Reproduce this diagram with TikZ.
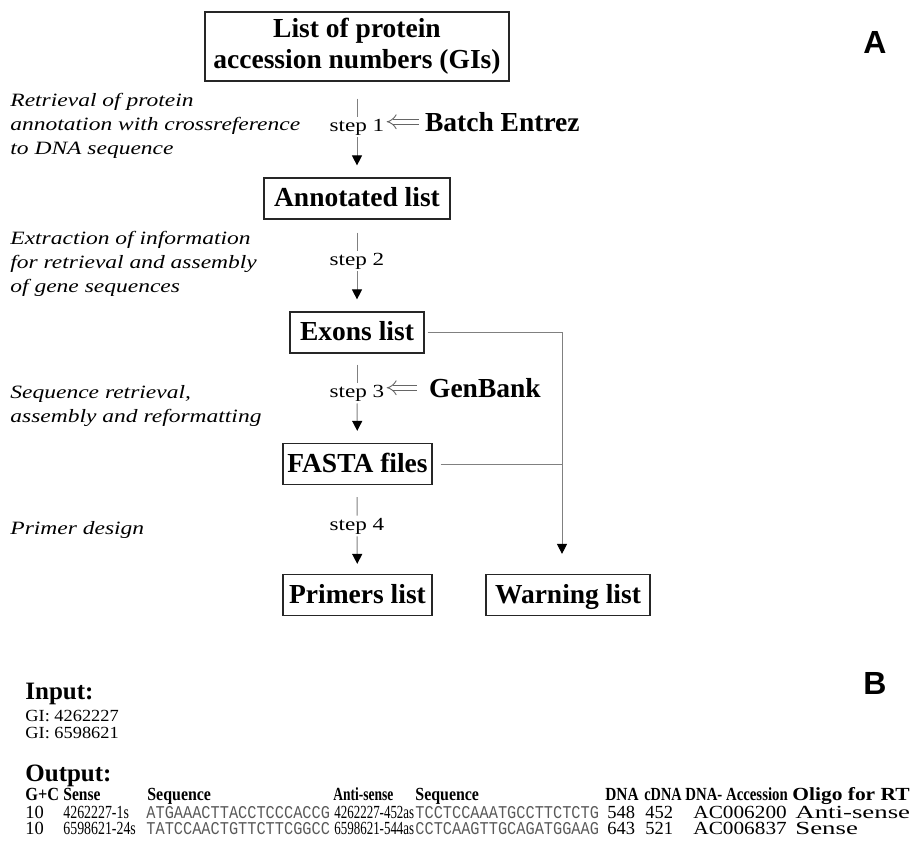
\documentclass[tikz,border=0pt]{standalone}
\usepackage{fontspec}
\usepackage{graphicx}
\setmainfont{Liberation Serif}
\newfontfamily\wideserif[FakeStretch=1.25]{Liberation Serif}
\newfontfamily\seqfont[FakeStretch=0.85]{Liberation Mono}
\newfontfamily\panelfont{Liberation Sans}
\usetikzlibrary{arrows.meta,positioning}
\newcommand{\squeeze}[2]{\scalebox{#1}[1]{#2}}

\tikzset{
  listbox/.style={draw=black!85, line width=0.6pt, inner sep=1pt, minimum height=20.5pt,
    align=center, font=\bfseries\fontsize{13.75}{15.5}\selectfont},
  onerow/.style={text height=9.4pt, text depth=1.2pt},
  steplabel/.style={inner sep=1pt, font=\wideserif\fontsize{9.25}{10}\selectfont},
  note/.style={inner sep=0pt, anchor=west, align=left, font=\wideserif\itshape\fontsize{9.4}{12}\selectfont},
  toolname/.style={inner sep=1pt, font=\bfseries\fontsize{13.75}{15.5}\selectfont},
  flow/.style={draw=black!50, line width=0.5pt},
  link/.style={draw=black!50, line width=0.5pt},
  pointer/.style={-{Triangle[width=5pt,length=5pt,color=black]}, shorten >=6pt},
  feed/.style={draw=black!60, line width=0.45pt, double, double distance=2.2pt, -{Implies[scale=1.8]}},
  panel/.style={inner sep=0pt, font=\panelfont\bfseries\fontsize{16}{16}\selectfont},
  heading/.style={inner sep=0pt, anchor=base west, font=\bfseries\fontsize{12.5}{14}\selectfont},
  headcell/.style={inner sep=0pt, anchor=base west, font=\bfseries\fontsize{9.25}{10}\selectfont},
  cell/.style={inner sep=0pt, anchor=base west, font=\fontsize{9.25}{10}\selectfont},
  gicell/.style={inner sep=0pt, anchor=base west, font=\fontsize{8.5}{9}\selectfont},
  seqcell/.style={inner sep=0pt, anchor=base west, text=black!65, font=\seqfont\fontsize{9}{10}\selectfont}
}

\begin{document}
\begin{tikzpicture}[x=0.5pt,y=-0.5pt]
\useasboundingbox (0,0) rectangle (914,840);

% panel A: the flow
\node[listbox, minimum width=152pt, minimum height=34.5pt] (gis) at (357,46.5) {List of protein\\accession numbers (GIs)};
\node[listbox, onerow, minimum width=93pt] (annot) at (357,198.5) {Annotated list};
\node[listbox, onerow, minimum width=67pt] (exons) at (357,332.5) {Exons list};
\node[listbox, onerow, minimum width=74.5pt] (fasta) at (357.5,464) {FASTA files};
\node[listbox, onerow, minimum width=74.5pt] (primers) at (357.5,595) {Primers list};
\node[listbox, onerow, minimum width=82pt] (warning) at (568,595) {Warning list};

\node[steplabel] (s1) at (357,127) {step 1};
\node[steplabel] (s2) at (357,261) {step 2};
\node[steplabel] (s3) at (357,393) {step 3};
\node[steplabel] (s4) at (357,526) {step 4};

\node[toolname, base right=18pt of s1] (batch) {Batch Entrez};
\node[toolname, base right=20pt of s3] (genbank) {GenBank};

\draw[flow, shorten <=8.5pt] (gis) -- (s1);
\draw[flow, pointer] (s1) -- (annot);
\draw[flow, shorten <=6.5pt] (annot) -- (s2);
\draw[flow, pointer] (s2) -- (exons);
\draw[flow, shorten <=5.5pt] (exons) -- (s3);
\draw[flow, pointer] (s3) -- (fasta);
\draw[flow, shorten <=6pt] (fasta) -- (s4);
\draw[flow, pointer, shorten >=5pt] (s4) -- (primers);

\draw[feed, shorten <=2pt] (batch.west) -- (s1.east |- batch.west);
\draw[feed, shorten <=5pt] (genbank.west) -- (s3.east |- genbank.west);

% warnings collected on the right
\coordinate (jn) at (562,332.5);
\draw[link, pointer, shorten <=1.5pt, shorten >=10pt] (exons.east) -- (jn) -- (jn |- warning.north);
\draw[link, shorten <=4pt] (fasta.east) -- (fasta.east -| jn);

\node[note] (n1) at (10,126) {Retrieval of protein\\annotation with crossreference\\to DNA sequence};
\node[note] (n2) at (10,264) {Extraction of information\\for retrieval and assembly\\of gene sequences};
\node[note] (n3) at (10,406) {Sequence retrieval,\\assembly and reformatting};
\node[note] (n4) at (10,530) {Primer design};

\node[panel] (pa) at (875,42) {A};
\node[panel] (pb) at (875,683) {B};

% panel B: example input and output
\node[heading] (inp) at (25,699) {Input:};
\node[gicell] (gi1) at (25,721) {\squeeze{1.08}{GI: 4262227}};
\node[gicell] (gi2) at (25,738) {\squeeze{1.08}{GI: 6598621}};
\node[heading] (outp) at (25,781) {Output:};

\foreach \x/\txt/\sc [count=\i] in {25/G+C/0.88, 63/Sense/0.84, 147/Sequence/0.86, 333/Anti-sense/0.73,
    415/Sequence/0.86, 605/DNA/0.83, 644/cDNA/0.77, 685/DNA- Accession/0.8, 792/Oligo for RT/1.16}
  \node[headcell] (h\i) at (\x,800) {\squeeze{\sc}{\txt}};

\foreach \yy/\sid/\sseq/\aid/\aseq/\dnalen/\cdnalen/\accno/\oligo [count=\rowno] in {
    818/4262227-1s/ATGAAACTTACCTCCCACCG/4262227-452as/TCCTCCAAATGCCTTCTCTG/548/452/AC006200/Anti-sense,
    834/6598621-24s/TATCCAACTGTTCTTCGGCC/6598621-544as/CCTCAAGTTGCAGATGGAAG/643/521/AC006837/Sense}
{
  \node[cell] (gc\rowno) at (25,\yy) {10};
  \node[cell] (sid\rowno) at (63,\yy) {\squeeze{0.75}{\sid}};
  \node[seqcell] (sseq\rowno) at (146,\yy) {\sseq};
  \node[cell] (aid\rowno) at (334,\yy) {\squeeze{0.7}{\aid}};
  \node[seqcell] (aseq\rowno) at (415,\yy) {\aseq};
  \node[cell] (dna\rowno) at (607,\yy) {\dnalen};
  \node[cell] (cdna\rowno) at (645,\yy) {\cdnalen};
  \node[cell] (acc\rowno) at (693,\yy) {\squeeze{1.15}{\accno}};
  \node[cell] (oligo\rowno) at (795,\yy) {\squeeze{1.45}{\oligo}};
}
\end{tikzpicture}
\end{document}
